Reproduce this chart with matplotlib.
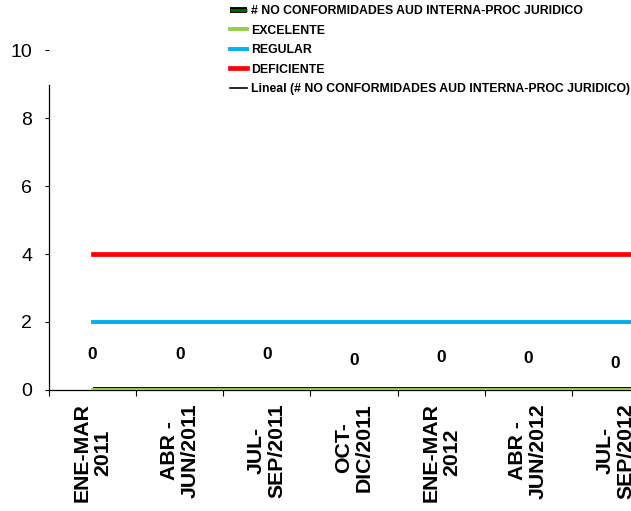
import numpy as np
import matplotlib
matplotlib.use('Agg')
import matplotlib.pyplot as plt
import matplotlib.patheffects as pe

plt.rcParams['font.family'] = ['Liberation Sans', 'DejaVu Sans']

categories = ['ENE-MAR\n2011', 'ABR -\nJUN/2011', 'JUL-\nSEP/2011', 'OCT-\nDIC/2011',
              'ENE-MAR\n2012', 'ABR -\nJUN/2012', 'JUL-\nSEP/2012', 'OCT-\nDIC/2012']
no_conformidades = [0, 0, 0, 0, 0, 0, 0, 0]
excelente = [0, 0, 0, 0, 0, 0, 0, 0]
regular = [2, 2, 2, 2, 2, 2, 2, 2]
deficiente = [4, 4, 4, 4, 4, 4, 4, 4]
label_y = [1.03, 1.03, 1.03, 0.88, 0.97, 0.94, 0.79, 0.85]

x = np.arange(len(categories))
# linear trend of the series
coef = np.polyfit(x, no_conformidades, 1)
trend = np.polyval(coef, x)

fig = plt.figure(figsize=(6.31, 5.11), dpi=100)
ax = fig.add_axes([49 / 631, 1 - 390 / 511, 1 - 49 / 631, 340 / 511])

l1, = ax.plot(x, no_conformidades, color='#006400', lw=2.2, solid_capstyle='butt',
              path_effects=[pe.Stroke(linewidth=4.2, foreground='black'), pe.Normal()],
              label='# NO CONFORMIDADES AUD INTERNA-PROC JURIDICO', zorder=3)
l5, = ax.plot(x, trend, color='black', lw=1.2,
              label='Lineal (# NO CONFORMIDADES AUD INTERNA-PROC JURIDICO)', zorder=3)
l2, = ax.plot(x, excelente, color='#92D050', lw=2.8, label='EXCELENTE', zorder=4)
l3, = ax.plot(x, regular, color='#00B0F0', lw=2.8, label='REGULAR', zorder=4)
l4, = ax.plot(x, deficiente, color='#FF0000', lw=3.4, label='DEFICIENTE', zorder=4)

for xi, v, ly in zip(x, no_conformidades, label_y):
    ax.text(xi, ly, str(v), ha='center', va='center', fontsize=12.5, fontweight='bold')

ax.set_yticks([0, 2, 4, 6, 8, 10])
ax.tick_params(axis='y', direction='out', length=3, width=0.8, pad=9, labelsize=14)

ax.set_xticks(x)
ax.set_xticklabels([])
ax.set_xticks(np.arange(-0.5, len(categories), 1), minor=True)
ax.tick_params(axis='x', which='major', length=0)
ax.tick_params(axis='x', which='minor', direction='out', length=4.5, width=0.8)

ax.set_xlim(-0.5, 6.18)
ax.set_ylim(0, 10)

# category labels: one text per line so the lines stay centred on each other
pad = 9.4
pitch = 15.0
groups = []
for xi, lbl in zip(x, categories):
    lines = lbl.split('\n')
    group = []
    for i, line in enumerate(lines):
        dx = (i - (len(lines) - 1) / 2) * pitch
        t = ax.annotate(line, xy=(xi, 0), xycoords=ax.get_xaxis_transform(),
                        xytext=(dx, -pad), textcoords='offset points', rotation=90,
                        ha='center', va='center', fontsize=15.3, fontweight='bold',
                        annotation_clip=False)
        group.append((t, dx))
    groups.append(group)

renderer = fig.canvas.get_renderer()
for group in groups:
    hmax = max(t.get_window_extent(renderer).height for t, dx in group) * 72 / fig.dpi
    for t, dx in group:
        t.xyann = (dx, -pad - hmax / 2)

for s in ['top', 'right']:
    ax.spines[s].set_visible(False)
ax.spines['left'].set_bounds(0, 8.97)
ax.spines['left'].set_linewidth(0.9)
ax.spines['bottom'].set_linewidth(0.9)

leg = fig.legend(handles=[l1, l2, l3, l4, l5], loc='upper left',
                 bbox_to_anchor=(230 / 631, 1 - 5 / 511), frameon=False,
                 prop={'size': 8.8, 'weight': 'bold'}, handlelength=1.4,
                 handletextpad=0.3, labelspacing=0.62, borderpad=0, borderaxespad=0)

fig.savefig('out.png', dpi=100)
